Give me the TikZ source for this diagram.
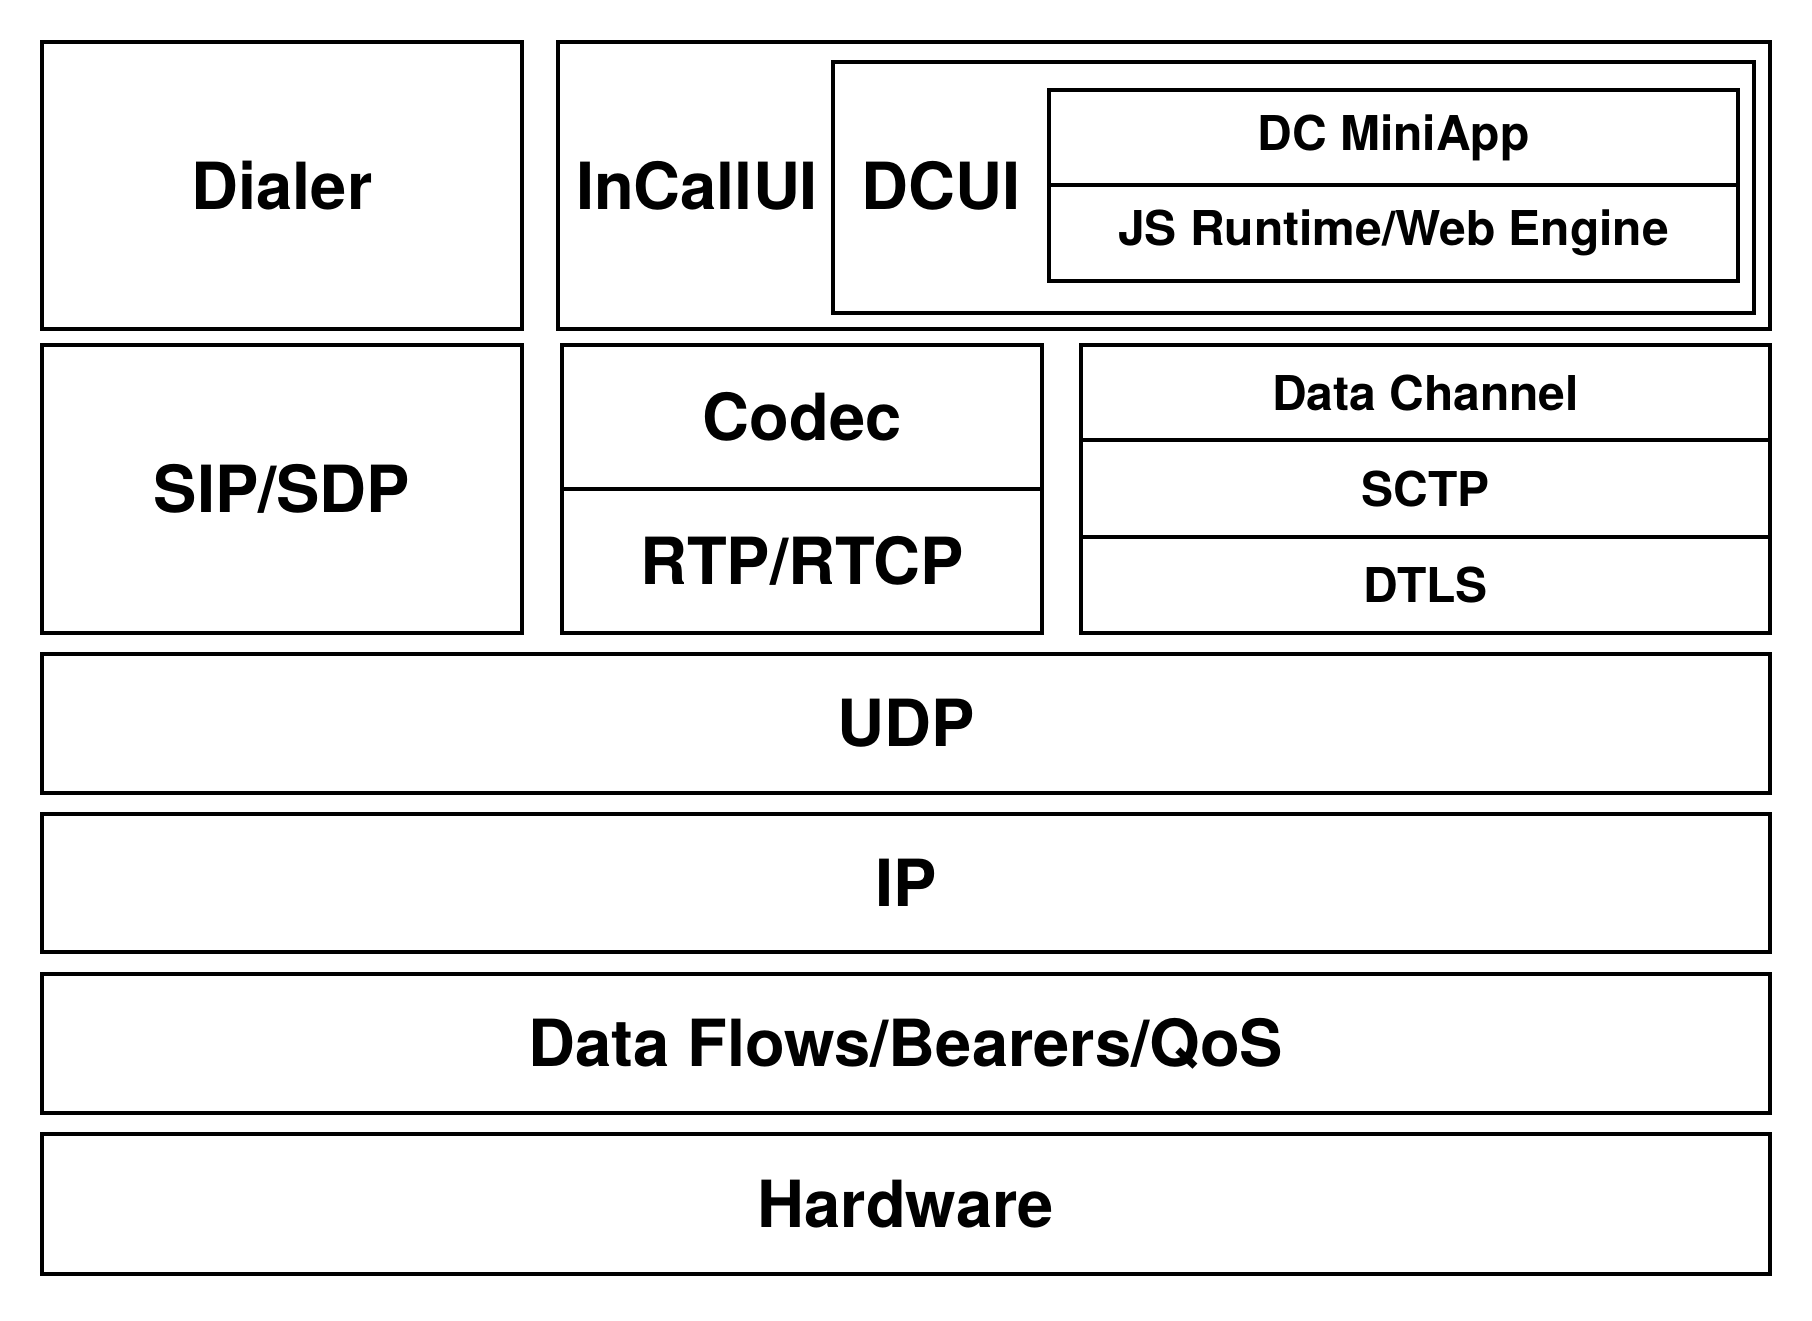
\documentclass[tikz,border=0pt]{standalone}
\usepackage{fontspec}
\setmainfont{TeX Gyre Heros}
\tikzset{
  layer/.style={draw, line width=4pt, inner sep=0pt, outer sep=0pt, anchor=north west,
    font=\fontsize{65}{78}\selectfont\bfseries},
  sublayer/.style={layer, font=\fontsize{48}{58}\selectfont\bfseries},
  big/.style={inner sep=0pt, font=\fontsize{65}{78}\selectfont\bfseries},
}
\begin{document}
\begin{tikzpicture}[x=1pt, y=-1pt]
  \useasboundingbox (0,0) rectangle (1812,1320);

  % Top row
  \node[layer, minimum width=480, minimum height=287] (dialer) at (42,42) {Dialer};
  \node[layer, minimum width=1212, minimum height=287] (incall) at (558,42) {};
  \node[layer, minimum width=921, minimum height=251] (dcui) at (833,62) {};
  \node[big] (incalltext) at (697,186) {InCallUI};
  \node[big] (dcuitext) at (941,186) {DCUI};
  \node[sublayer, minimum width=689, minimum height=95] (miniapp) at (1049,90) {\raisebox{-3pt}{DC MiniApp}};
  \node[sublayer, minimum width=689, minimum height=96] (jsengine) at (1049,185) {\raisebox{-3pt}{JS Runtime/Web Engine}};

  % Middle row
  \node[layer, minimum width=480, minimum height=288] (sip) at (42,345) {SIP/SDP};
  \node[layer, minimum width=480, minimum height=144] (codec) at (562,345) {Codec};
  \node[layer, minimum width=480, minimum height=144] (rtp) at (562,489) {RTP/RTCP};
  \node[sublayer, minimum width=689, minimum height=95] (datachannel) at (1081,345) {\raisebox{-2pt}{Data Channel}};
  \node[sublayer, minimum width=689, minimum height=97] (sctp) at (1081,440) {\raisebox{-2pt}{SCTP}};
  \node[sublayer, minimum width=689, minimum height=96] (dtls) at (1081,537) {\raisebox{-2pt}{DTLS}};

  % Bottom layers
  \node[layer, minimum width=1728, minimum height=139] (udp) at (42,654) {UDP};
  \node[layer, minimum width=1728, minimum height=138] (ip) at (42,814) {IP};
  \node[layer, minimum width=1728, minimum height=139] (flows) at (42,974) {Data Flows/Bearers/QoS};
  \node[layer, minimum width=1728, minimum height=140] (hardware) at (42,1134) {Hardware};
\end{tikzpicture}
\end{document}
